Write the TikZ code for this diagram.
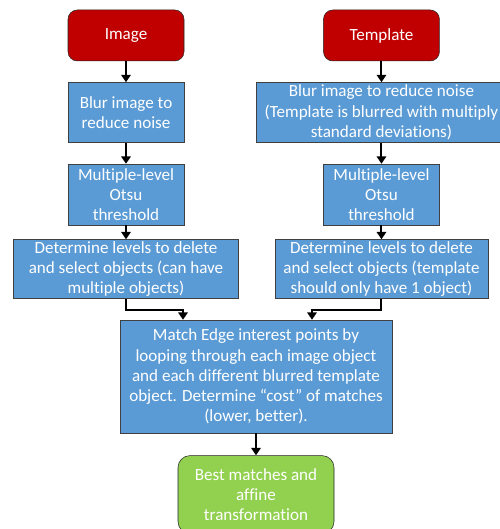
\documentclass[tikz,border=0pt]{standalone}
\usepackage{fontspec}
\setmainfont{Carlito}[Ligatures={TeX,NoCommon}]
\usetikzlibrary{positioning,arrows.meta}
\definecolor{startred}{HTML}{C00000}
\definecolor{stepblue}{HTML}{5B9BD5}
\definecolor{endgreen}{HTML}{92D050}

\begin{document}
\begin{tikzpicture}[
      every node/.style={font=\fontsize{12.8}{15.2}\selectfont, align=center,
                         text=white, inner sep=1pt},
      term/.style={draw=black!85, rounded corners=7pt, fill=startred,
                   minimum width=87pt, minimum height=38.25pt},
      proc/.style={draw=black!75, fill=stepblue},
      done/.style={draw=black!85, rounded corners=9pt, fill=endgreen,
                   minimum width=117pt, minimum height=58.5pt},
      arrow/.style={-{Triangle[length=5.5pt, width=7pt]}, line width=1.5pt},
  ]
    \useasboundingbox (0,0) rectangle (375pt,-396.75pt);

    % left column
    \node[term] (img) at (94.5pt,-26.6pt) {Image};
    \node[proc, minimum width=87pt, minimum height=45pt,
          below=15.75pt of img] (blurL) {Blur image to\\reduce noise};
    \node[proc, minimum width=87pt, minimum height=45.75pt,
          below=15.75pt of blurL] (otsuL) {Multiple-level\\Otsu\\threshold};
    \node[proc, minimum width=168.75pt, minimum height=44.25pt,
          below=10.5pt of otsuL] (detL)
      {Determine levels to delete\\and select objects (can have\\multiple objects)};

    % right column
    \node[term] (tmpl) at (286.1pt,-26.6pt) {Template};
    \node[proc, minimum width=187.5pt, minimum height=45pt,
          below=15.75pt of tmpl] (blurR)
      {Blur image to reduce noise\\(Template is blurred with multiply\\standard deviations)};
    \node[proc, minimum width=87pt, minimum height=45.75pt,
          below=15.75pt of blurR] (otsuR) {Multiple-level\\Otsu\\threshold};
    \node[proc, minimum width=160pt, minimum height=44.25pt,
          below=10.5pt of otsuR] (detR)
      {Determine levels to delete\\and select objects (template\\should only have 1 object)};

    % merge
    \node[proc, minimum width=204pt, minimum height=84.75pt] (match) at (192pt,-282.4pt)
      {Match Edge interest points by\\looping through each image object\\and each different blurred template\\object. Determine “cost” of matches\\(lower, better).};
    \node[done, below=16.5pt of match] (best) {Best matches and\\affine\\transformation};

    \draw[arrow] (img) -- (blurL);
    \draw[arrow] (blurL) -- (otsuL);
    \draw[arrow] (otsuL) -- (detL);
    \draw[arrow] (tmpl) -- (blurR);
    \draw[arrow] (blurR) -- (otsuR);
    \draw[arrow] (otsuR) -- (detR);
    \draw[arrow] (detL.south) -- ++(0,-8.25pt) -| ([xshift=-54.75pt]match.north);
    \draw[arrow] (detR.south) -- ++(0,-8.25pt) -| ([xshift=42pt]match.north);
    \draw[arrow] (match) -- (best);
  \end{tikzpicture}
\end{document}
